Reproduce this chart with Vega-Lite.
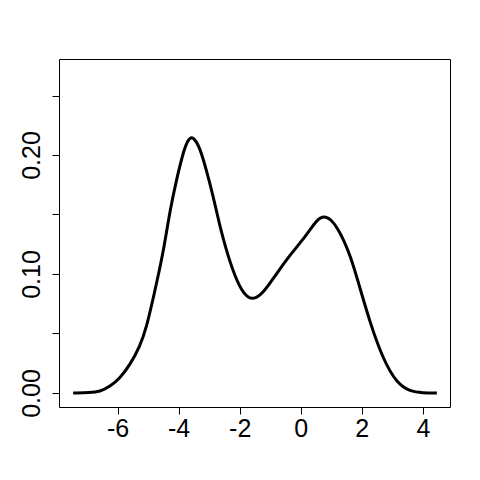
{
  "$schema": "https://vega.github.io/schema/vega-lite/v6.json",
  "width": 391,
  "height": 348,
  "autosize": {"type": "none"},
  "padding": {"left": 59, "top": 59, "right": 30, "bottom": 73},
  "background": "white",
  "config": {
    "view": {"stroke": "black", "strokeWidth": 1},
    "font": "Liberation Sans",
    "axis": {
      "domain": false,
      "grid": false,
      "ticks": true,
      "tickColor": "black",
      "tickSize": 7,
      "tickWidth": 1,
      "labelColor": "black",
      "labelFont": "Liberation Sans",
      "labelFontSize": 25,
      "title": null
    }
  },
  "data": {
    "values": [
      {"x": -7.456, "y": 0.0},
      {"x": -6.9, "y": 0.0002},
      {"x": -6.58, "y": 0.0011},
      {"x": -6.252, "y": 0.0053},
      {"x": -5.925, "y": 0.0124},
      {"x": -5.597, "y": 0.0235},
      {"x": -5.269, "y": 0.0389},
      {"x": -5.049, "y": 0.0557},
      {"x": -4.833, "y": 0.0796},
      {"x": -4.505, "y": 0.1174},
      {"x": -4.285, "y": 0.1538},
      {"x": -4.05, "y": 0.1815},
      {"x": -3.849, "y": 0.2025},
      {"x": -3.7, "y": 0.2125},
      {"x": -3.574, "y": 0.2155},
      {"x": -3.45, "y": 0.2125},
      {"x": -3.275, "y": 0.2045},
      {"x": -2.974, "y": 0.1762},
      {"x": -2.754, "y": 0.1525},
      {"x": -2.646, "y": 0.1397},
      {"x": -2.318, "y": 0.109},
      {"x": -1.99, "y": 0.088},
      {"x": -1.75, "y": 0.0805},
      {"x": -1.554, "y": 0.0785},
      {"x": -1.226, "y": 0.0838},
      {"x": -0.787, "y": 0.1006},
      {"x": -0.351, "y": 0.116},
      {"x": 0.197, "y": 0.1328},
      {"x": 0.5, "y": 0.1448},
      {"x": 0.75, "y": 0.1492},
      {"x": 1.0, "y": 0.1458},
      {"x": 1.2, "y": 0.1385},
      {"x": 1.42, "y": 0.128},
      {"x": 1.616, "y": 0.1155},
      {"x": 1.836, "y": 0.0977},
      {"x": 2.272, "y": 0.0586},
      {"x": 2.708, "y": 0.0277},
      {"x": 3.148, "y": 0.0082},
      {"x": 3.584, "y": 0.0011},
      {"x": 4.0, "y": 0.0001},
      {"x": 4.459, "y": 0.0}
    ]
  },
  "mark": {"type": "line", "color": "black", "strokeWidth": 3, "interpolate": "basis"},
  "encoding": {
    "x": {
      "field": "x",
      "type": "quantitative",
      "scale": {"domain": [-7.92, 4.89], "nice": false, "zero": false},
      "axis": {
        "values": [-6, -4, -2, 0, 2, 4],
        "labelExpr": "replace(format(datum.value, 'd'), '−', '-')",
        "labelPadding": 2,
        "labelFlush": false,
        "labelOverlap": false
      }
    },
    "y": {
      "field": "y",
      "type": "quantitative",
      "scale": {"domain": [-0.0118, 0.2807], "nice": false, "zero": false},
      "axis": {
        "values": [0, 0.05, 0.1, 0.15, 0.2, 0.25],
        "labelExpr": "indexof(['0.00','0.10','0.20'], format(datum.value, '.2f')) >= 0 ? format(datum.value, '.2f') : ''",
        "labelAngle": -90,
        "labelAlign": "center",
        "labelBaseline": "bottom",
        "labelPadding": 8,
        "labelFlush": false,
        "labelOverlap": false
      }
    }
  }
}
